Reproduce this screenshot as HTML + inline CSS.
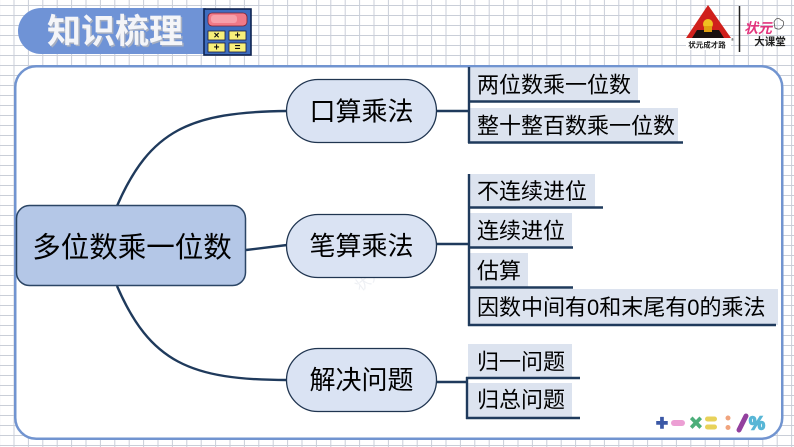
<!DOCTYPE html>
<html><head><meta charset="utf-8"><style>
html,body{margin:0;padding:0;background:#fff;}
svg{display:block;}
text{font-family:"Liberation Sans","Noto Sans CJK SC",sans-serif;}
</style></head><body>
<svg width="794" height="447" viewBox="0 0 794 447" xmlns="http://www.w3.org/2000/svg">
<defs>
<pattern id="grid" x="13.5" y="5" width="14.4" height="10" patternUnits="userSpaceOnUse">
<path d="M0.5 0 V10 M0 0.5 H14.4" stroke="#c9ced8" stroke-width="1" fill="none"/>
</pattern>
</defs>
<rect width="794" height="447" fill="#fff"/>
<rect width="794" height="447" fill="url(#grid)"/>

<!-- panel -->
<rect x="15.25" y="66.25" width="767" height="372.5" rx="21" fill="#fff" stroke="#7194d0" stroke-width="2.5"/>

<!-- title badge -->
<path d="M41 8 H206 V54 H41 A23 23 0 0 1 41 8 Z" fill="#6f93d6"/>
<text x="48.5" y="33.5" font-size="34" font-weight="bold" fill="#a7b0c2" dominant-baseline="central">知识梳理</text>
<text x="47" y="32" font-size="34" font-weight="bold" fill="#f4f5f8" dominant-baseline="central">知识梳理</text>

<!-- calculator -->
<rect x="204" y="9" width="47" height="46" fill="#3e6dbf" stroke="#0f2350" stroke-width="1.6"/>
<rect x="208" y="13" width="39" height="13" rx="4" fill="#f07a88" stroke="#7a2030" stroke-width="0.8"/>
<rect x="211" y="15" width="26" height="8" rx="3" fill="#f6a0aa"/>
<rect x="208" y="31" width="17" height="9" fill="#f8f07a" stroke="#1a1a40" stroke-width="0.8"/>
<rect x="229" y="31" width="17" height="9" fill="#f8f07a" stroke="#1a1a40" stroke-width="0.8"/>
<rect x="208" y="43" width="17" height="9" fill="#f8f07a" stroke="#1a1a40" stroke-width="0.8"/>
<rect x="229" y="43" width="17" height="9" fill="#f8f07a" stroke="#1a1a40" stroke-width="0.8"/>
<text x="216.5" y="36" font-size="10" font-weight="bold" text-anchor="middle" dominant-baseline="central" fill="#111">×</text>
<text x="237.5" y="36" font-size="10" font-weight="bold" text-anchor="middle" dominant-baseline="central" fill="#111">+</text>
<text x="216.5" y="48" font-size="10" font-weight="bold" text-anchor="middle" dominant-baseline="central" fill="#111">+</text>
<text x="237.5" y="48" font-size="10" font-weight="bold" text-anchor="middle" dominant-baseline="central" fill="#111">=</text>

<!-- logo -->
<polygon points="708,5 686,38 731,38" fill="#d0201c"/>
<polygon points="697,30 719,30 724,38 692,38" fill="#1a1010"/>
<circle cx="708" cy="24" r="5" fill="#f0c020"/>
<rect x="704" y="26" width="8" height="6" fill="#e0a010"/>
<rect x="686" y="38" width="45" height="12" fill="#fff"/>
<text x="707" y="45" font-size="7.5" font-weight="bold" text-anchor="middle" dominant-baseline="central" fill="#222">状元成才路</text>
<text x="731" y="41" font-size="4" fill="#222">®</text>
<line x1="739.5" y1="6" x2="739.5" y2="52" stroke="#222" stroke-width="1.5"/>
<text x="744" y="28" font-size="14" font-weight="bold" font-style="italic" fill="#e2337c" dominant-baseline="central">状元</text>
<path d="M774 22 q3 -6 7 -2 q4 1 2 6 q-3 5 -8 2 z" fill="none" stroke="#555" stroke-width="0.8"/>
<text x="770" y="42" font-size="10.5" font-weight="bold" text-anchor="middle" dominant-baseline="central" fill="#222">大课堂</text>

<!-- watermark -->
<text x="0" y="0" font-size="15" fill="#eef0f4" transform="translate(360,292) rotate(-38)">状元成才路</text>

<!-- connectors -->
<g stroke="#1f3a5c" stroke-width="2.4" fill="none">
<path d="M117 206 C150 130 190 112 287 111"/>
<path d="M117 286 C150 362 190 380 287 380"/>
<path d="M246 250 L287 245"/>
<path d="M436 111 H469"/>
<path d="M436 244 H469"/>
<path d="M436 382 H467"/>
</g>

<!-- central node -->
<rect x="16.5" y="205.5" width="229" height="80" rx="13" fill="#b4c7e7" stroke="#2b4565" stroke-width="1.5"/>
<text x="132" y="248" font-size="28.5" text-anchor="middle" dominant-baseline="central" fill="#000">多位数乘一位数</text>

<!-- branch nodes -->
<rect x="286.5" y="79.5" width="150" height="63" rx="31.5" fill="#dae3f3" stroke="#203550" stroke-width="1.3"/>
<text x="361.5" y="111.5" font-size="26" text-anchor="middle" dominant-baseline="central" fill="#000">口算乘法</text>
<rect x="286.5" y="214.5" width="150" height="63" rx="31.5" fill="#dae3f3" stroke="#203550" stroke-width="1.3"/>
<text x="361.5" y="246" font-size="26" text-anchor="middle" dominant-baseline="central" fill="#000">笔算乘法</text>
<rect x="286.5" y="348.5" width="150" height="63" rx="31.5" fill="#dae3f3" stroke="#203550" stroke-width="1.3"/>
<text x="361.5" y="380" font-size="26" text-anchor="middle" dominant-baseline="central" fill="#000">解决问题</text>

<!-- leaf backgrounds -->
<g fill="#dce3ef">
<rect x="469" y="68" width="169" height="33"/>
<rect x="469" y="108" width="209" height="34"/>
<rect x="469" y="174" width="126" height="33"/>
<rect x="469" y="213" width="103" height="34"/>
<rect x="469" y="253" width="59" height="34"/>
<rect x="469" y="289" width="309" height="36"/>
<rect x="468" y="344" width="104" height="34"/>
<rect x="468" y="383" width="104" height="35"/>
</g>

<!-- leaf lines -->
<g stroke="#1f3a5c" stroke-width="2.4" fill="none">
<path d="M469 67 V143"/>
<path d="M468 101.5 H640"/>
<path d="M468 142.5 H683"/>
<path d="M469 174 V326"/>
<path d="M468 207.5 H603"/>
<path d="M468 247.5 H573"/>
<path d="M468 287.5 H573"/>
<path d="M468 325 H776"/>
<path d="M467 377 V419"/>
<path d="M466 378 H580"/>
<path d="M466 418 H580"/>
</g>

<!-- leaf texts -->
<g font-size="22" fill="#000" dominant-baseline="central">
<text x="477" y="85">两位数乘一位数</text>
<text x="477" y="126">整十整百数乘一位数</text>
<text x="477" y="191.5">不连续进位</text>
<text x="477" y="231">连续进位</text>
<text x="477" y="271">估算</text>
<text x="477" y="307.5">因数中间有0和末尾有0的乘法</text>
<text x="477" y="362">归一问题</text>
<text x="477" y="400">归总问题</text>
</g>

<!-- decorative symbols -->
<g font-weight="bold" dominant-baseline="central" text-anchor="middle">
<text x="662" y="423.5" font-size="20" fill="#3b58a6" stroke="#3b58a6" stroke-width="1.5">+</text>
<rect x="671" y="420" width="14" height="6" rx="3" fill="#ec9fd4"/>
<text x="696" y="423.5" font-size="20" fill="#4cae7a" stroke="#4cae7a" stroke-width="1.5">×</text>
<rect x="705" y="416.5" width="12" height="5" rx="2.5" fill="#e8d25a"/>
<rect x="705" y="424.5" width="12" height="5" rx="2.5" fill="#e8d25a"/>
<circle cx="728" cy="418" r="2.5" fill="#f0a47e"/>
<circle cx="728" cy="427.5" r="2.5" fill="#f0a47e"/>
<path d="M739 430 L746 416" stroke="#93409e" stroke-width="5" stroke-linecap="round"/>
<text x="757" y="423.5" font-size="18" fill="#58b6d6" stroke="#58b6d6" stroke-width="1.5">%</text>
</g>
</svg>
</body></html>
